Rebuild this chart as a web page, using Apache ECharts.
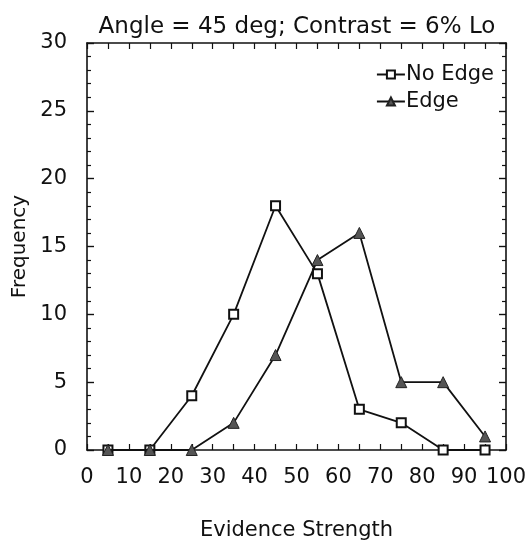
<!DOCTYPE html>
<html>
<head>
<meta charset="utf-8">
<script src="https://cdn.jsdelivr.net/npm/echarts@6/dist/echarts.min.js"></script>
<style>html,body{margin:0;padding:0;background:#fff;}#chart{width:526px;height:540px;}</style>
</head>
<body>
<div id="chart"></div>
<script>
const titleText = "Angle = 45 deg; Contrast = 6% Lo";
const xValues = [5, 15, 25, 35, 45, 55, 65, 75, 85, 95];
const noEdge = [0, 0, 4, 10, 18, 13, 3, 2, 0, 0];
const edge = [0, 0, 0, 2, 7, 14, 16, 5, 5, 1];
const seriesNames = ["No Edge", "Edge"];
const xTitle = "Evidence Strength";
const yTitle = "Frequency";

const font = "DejaVu Sans";
const chart = echarts.init(document.getElementById('chart'), null, {renderer: 'canvas'});
const pair = (xs, ys) => xs.map((x, i) => [x, ys[i]]);
const axisLine = {show: true, onZero: false, lineStyle: {color: '#111', width: 1.6}};
const tickX = {show: true, inside: true, length: 6, lineStyle: {color: '#111', width: 1.2}};
const minorX = {show: true, splitNumber: 2, length: 6, lineStyle: {color: '#111', width: 1.2}};
const tickY = {show: true, inside: true, length: 7, lineStyle: {color: '#111', width: 1.4}};
const minorY = {show: true, splitNumber: 5, length: 4, lineStyle: {color: '#111', width: 1.2}};
chart.setOption({
  backgroundColor: '#fff',
  animation: false,
  title: {text: titleText, left: 292, top: 11, textAlign: 'center',
    textStyle: {fontFamily: font, fontSize: 23, fontWeight: 'normal', color: '#111'}},
  legend: {
    orient: 'vertical', right: 27, top: 59, itemGap: 6, itemWidth: 28, itemHeight: 10,
    textStyle: {fontFamily: font, fontSize: 21, color: '#111', padding: [0, 0, 0, -4]},
    data: seriesNames
  },
  grid: {left: 87, right: 20, top: 43, bottom: 90, outerBoundsMode: 'none', containLabel: false},
  xAxis: [{
    type: 'value', min: 0, max: 100, interval: 10,
    name: xTitle, nameLocation: 'middle', nameGap: 70,
    nameTextStyle: {fontFamily: font, fontSize: 21, color: '#111'},
    axisLine: axisLine, axisTick: tickX, minorTick: minorX,
    axisLabel: {fontFamily: font, fontSize: 21, color: '#111', margin: 17},
    splitLine: {show: false}, minorSplitLine: {show: false}
  }, {
    type: 'value', min: 0, max: 100, interval: 10, position: 'top',
    axisLine: axisLine, axisTick: tickX, minorTick: minorX,
    axisLabel: {show: false}, splitLine: {show: false}
  }],
  yAxis: [{
    type: 'value', min: 0, max: 30, interval: 5,
    name: yTitle, nameLocation: 'middle', nameGap: 50, nameRotate: 90,
    nameTextStyle: {fontFamily: font, fontSize: 20, color: '#111'},
    axisLine: axisLine, axisTick: tickY, minorTick: minorY,
    axisLabel: {fontFamily: font, fontSize: 21, color: '#111', margin: 20},
    splitLine: {show: false}
  }, {
    type: 'value', min: 0, max: 30, interval: 5, position: 'right',
    axisLine: axisLine, axisTick: tickY, minorTick: minorY,
    axisLabel: {show: false}, splitLine: {show: false}
  }],
  series: [{
    name: seriesNames[0], type: 'line', data: pair(xValues, noEdge),
    symbol: 'rect', symbolSize: 9,
    lineStyle: {color: '#111', width: 1.8},
    itemStyle: {color: '#fff', borderColor: '#111', borderWidth: 2},
    z: 2
  }, {
    name: seriesNames[1], type: 'line', data: pair(xValues, edge),
    symbol: 'triangle', symbolSize: 11,
    lineStyle: {color: '#111', width: 1.8},
    itemStyle: {color: '#555', borderColor: '#222', borderWidth: 1},
    z: 3
  }, {
    name: 'frame', type: 'line', data: [], xAxisIndex: 1, yAxisIndex: 1,
    silent: true
  }]
});
</script>
</body>
</html>
